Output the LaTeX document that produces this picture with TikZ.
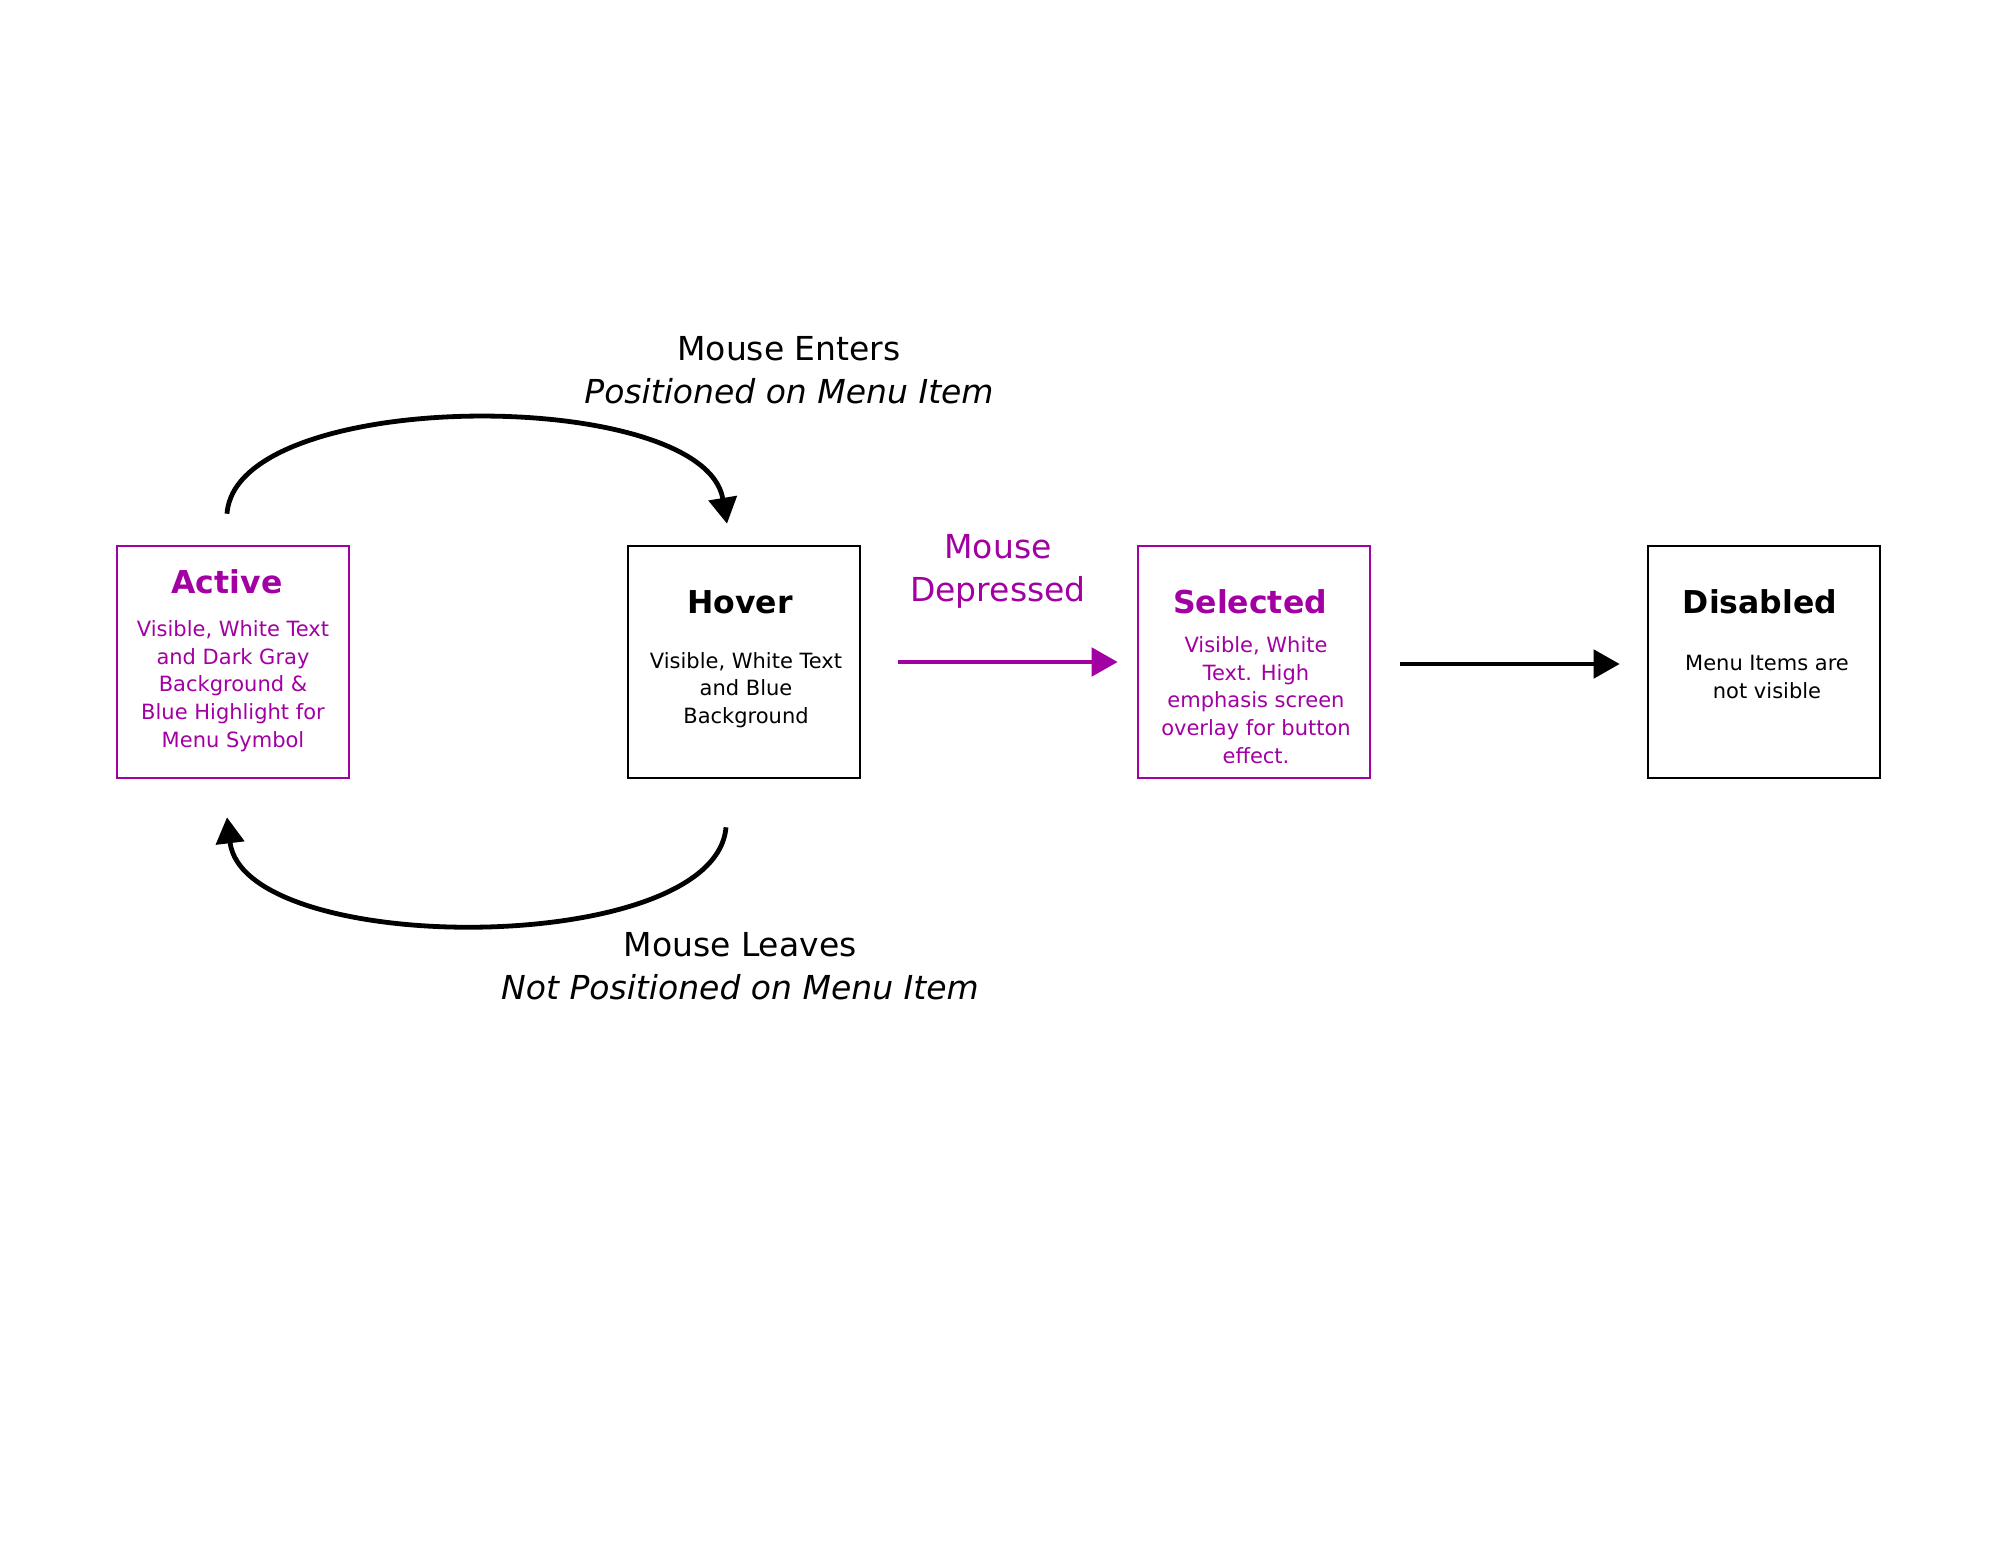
\documentclass[tikz,border=0pt]{standalone}
\usepackage{fontspec}
\setmainfont{DejaVu Sans}
\usetikzlibrary{arrows.meta}
\definecolor{mag}{RGB}{163,0,163}
\begin{document}
\begin{tikzpicture}[x=1pt,y=-1pt,
  box/.style={draw, line width=2.6pt, minimum width=232pt, minimum height=232pt, inner sep=0pt},
  ttl/.style={font=\fontsize{31.5}{36}\selectfont\bfseries, inner sep=0pt},
  body/.style={font=\fontsize{21}{27.8}\selectfont, align=center, inner sep=0pt},
  lbl/.style={font=\fontsize{33}{43}\selectfont, align=center, inner sep=0pt},
  arr/.style={line width=4.8pt, -{Triangle[length=26pt,width=28pt]}}]
\useasboundingbox (0,0) rectangle (2000,1545);
\fill[white] (0,0) rectangle (2000,1545);
% boxes
\node[box, draw=mag] (active) at (233,662) {};
\node[box, draw=black] (hover) at (744,662) {};
\node[box, draw=mag] (selected) at (1254,662) {};
\node[box, draw=black] (disabled) at (1764,662) {};
% titles and bodies
\node[ttl, text=mag] (acttitle) at (227,582) {Active};
\node[body, text=mag] (actbody) at (233,686) {Visible, White Text\\and Dark Gray\\Background \&\\Blue Highlight for\\Menu Symbol};
\node[ttl] (hovtitle) at (740,602) {Hover};
\node[body] (hovbody) at (746,690) {Visible, White Text\\and Blue\\Background};
\node[ttl, text=mag] (seltitle) at (1250,602) {Selected};
\node[body, text=mag] (selbody) at (1256,700) {Visible, White\\Text. High\\emphasis screen\\overlay for button\\effect.};
\node[ttl] (distitle) at (1760,602) {Disabled};
\node[body] (disbody) at (1767,677) {Menu Items are\\not visible};
% labels
\node[lbl] (entlbl) at (789,370) {Mouse Enters\\\textit{Positioned on Menu Item}};
\node[lbl, text=mag] (deplbl) at (998,571) {Mouse\\Depressed};
\node[lbl] (leavelbl) at (740,966) {Mouse Leaves\\\textit{Not Positioned on Menu Item}};
% connectors
\draw[arr, mag, shorten <=37pt, shorten >=19pt] (hover.east) -- (selected.west);
\draw[arr, black, shorten <=29pt, shorten >=27pt] ([yshift=-2pt]selected.east) -- ([yshift=-2pt]disabled.west);
\draw[arr] ([xshift=-6pt,yshift=31pt]active.north) .. controls (236,386) and (704,386) .. ([xshift=-17pt,yshift=21pt]hover.north);
\draw[arr] ([xshift=-18pt,yshift=-48pt]hover.south) .. controls (715,958) and (244,958) .. ([xshift=-6pt,yshift=-38pt]active.south);
\end{tikzpicture}
\end{document}
